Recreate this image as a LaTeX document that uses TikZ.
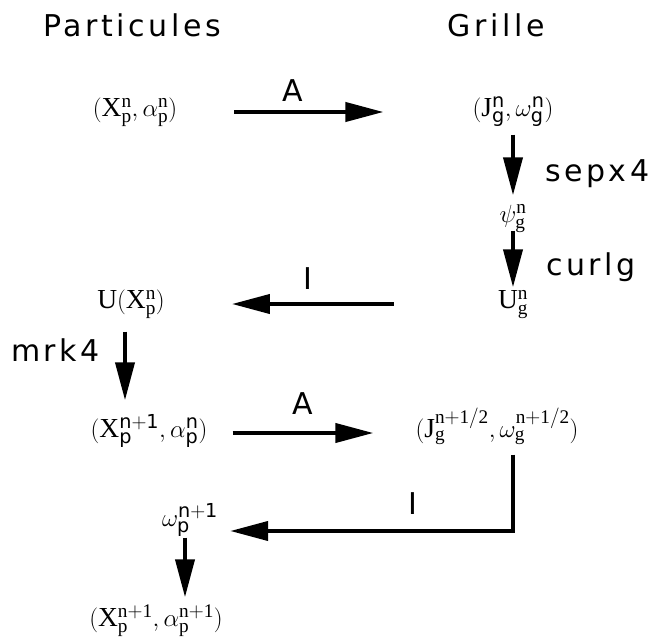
\documentclass[tikz,border=0pt]{standalone}
\usepackage{fontspec}
\setmainfont{Liberation Serif}
\setsansfont{DejaVu Sans}
\newfontfamily\labelfont[LetterSpace=12]{DejaVu Sans}
\usetikzlibrary{positioning}
\usetikzlibrary{arrows.meta}

\begin{document}
\begin{tikzpicture}[x=1pt, y=-1pt,
  every node/.style={inner sep=0pt},
  math/.style={font=\fontsize{27.5}{32}\selectfont, text height=17pt, text depth=8pt},
  title/.style={font=\labelfont\fontsize{30}{36}\selectfont},
  lbl/.style={font=\labelfont\fontsize{30}{36}\selectfont},
  arr/.style={-{Triangle[length=38pt,width=19pt]}, line width=4pt}]
  \useasboundingbox (0,0) rectangle (649,640);
  % column titles
  \node[title] (part)   at (132,25)  {Particules};
  \node[title] (grille) at (496,25)  {Grille};
  % particles and grid quantities
  \node[math] (xn)  at (135,112) {$(\mathrm{X}^{\mathrm{n}}_{\mathrm{p}},\alpha^{\mathrm{n}}_{\mathrm{p}})$};
  \node[math] (jn)  at (513,112) {$(\mathrm{J}^{\mathsf{n}}_{\mathsf{g}},\omega^{\mathsf{n}}_{\mathsf{g}})$};
  \node[math] (psi) at (513,218) {$\psi^{\mathrm{n}}_{\mathrm{g}}$};
  \node[math] (ug)  at (513,304) {$\mathrm{U}^{\mathrm{n}}_{\mathrm{g}}$};
  \node[math] (ux)  at (131,304) {$\mathrm{U}(\mathrm{X}^{\mathrm{n}}_{\mathrm{p}})$};
  \node[math] (xn1) at (149,433) {$(\mathrm{X}^{\mathsf{n+1}}_{\mathsf{p}},\alpha^{\mathsf{n}}_{\mathsf{p}})$};
  \node[math] (jh)  at (497,433) {$(\mathrm{J}^{\mathrm{n+1/2}}_{\mathrm{g}},\omega^{\mathrm{n+1/2}}_{\mathrm{g}})$};
  \node[math] (om)  at (190,522) {$\omega^{\mathsf{n+1}}_{\mathsf{p}}$};
  \node[math] (xf)  at (156,622) {$(\mathrm{X}^{\mathrm{n+1}}_{\mathrm{p}},\alpha^{\mathrm{n+1}}_{\mathrm{p}})$};
  \path[arr] (xn)  edge[shorten <=57pt, shorten >=89pt] node[lbl, above=9pt, pos=0.39] {A} (jn)
             (jn)  edge[shorten <=10pt, shorten >=10pt] node[lbl, right=30pt, pos=0.61] {sepx4} (psi)
             (psi) edge[shorten >=4pt] node[lbl, right=31pt, pos=0.6] {curlg} (ug)
             (ug)  edge[shorten <=104pt, shorten >=67pt] node[lbl, above=13pt, pos=0.57] {I} (ux)
             (xn1) edge[shorten <=25pt, shorten >=42pt] node[lbl, above=17pt, pos=0.46] {A} (jh);
  \draw[arr, shorten <=15pt, shorten >=20pt] ([xshift=-6pt]ux.south) -- node[lbl, left=23pt, pos=0.32] {mrk4} ([xshift=-6pt]ux.south |- xn1.north);
  \draw[arr, shorten <=9pt, shorten >=12pt] ([xshift=16pt]jh.south) |- node[lbl, above=15pt, pos=0.67] {I} ([yshift=-9pt]om.east);
  \draw[arr, shorten <=3pt, shorten >=12pt] ([xshift=-5pt]om.south) -- ([xshift=-5pt]om.south |- xf.north);
\end{tikzpicture}
\end{document}
